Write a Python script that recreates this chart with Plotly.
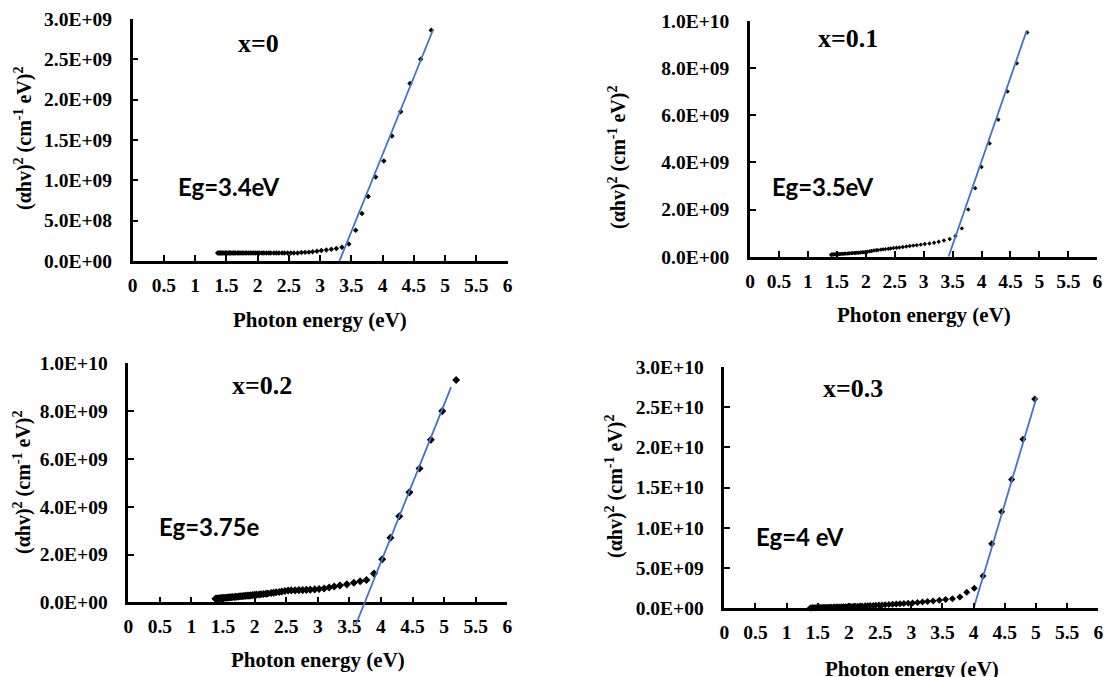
import plotly.graph_objects as go

W, H = 1116, 677
SCALE = 1e9  # values below are in units of 1e9 (cm^-1 eV)^2

# ---------------- data: x = 0 ----------------
e_x0 = [1.36, 1.38, 1.39, 1.41, 1.42, 1.44, 1.46, 1.48, 1.49, 1.51, 1.53, 1.55, 1.57, 1.59,
        1.61, 1.63, 1.65, 1.68, 1.70, 1.72, 1.75, 1.77, 1.80, 1.82, 1.85, 1.88, 1.91, 1.94,
        1.97, 2.00, 2.03, 2.07, 2.10, 2.14, 2.18, 2.21, 2.26, 2.30, 2.34, 2.39, 2.43, 2.48,
        2.53, 2.58, 2.64, 2.70, 2.76, 2.82, 2.88, 2.95, 3.02, 3.10, 3.18, 3.26, 3.35, 3.46,
        3.57, 3.67, 3.77, 3.89, 4.02, 4.15, 4.29, 4.44, 4.61, 4.78]
a_x0 = [0.10, 0.10, 0.10, 0.10, 0.10, 0.10, 0.10, 0.10, 0.10, 0.10, 0.10, 0.10, 0.10, 0.10,
        0.10, 0.10, 0.10, 0.10, 0.10, 0.10, 0.10, 0.10, 0.10, 0.10, 0.10, 0.10, 0.10, 0.10,
        0.10, 0.10, 0.10, 0.10, 0.10, 0.10, 0.10, 0.10, 0.10, 0.10, 0.10, 0.10, 0.10, 0.10,
        0.10, 0.10, 0.10, 0.105, 0.107, 0.11, 0.115, 0.12, 0.13, 0.137, 0.145, 0.155, 0.17, 0.21,
        0.38, 0.59, 0.80, 1.04, 1.24, 1.55, 1.85, 2.20, 2.50, 2.86]
fit_e_x0 = [3.31, 4.81]
fit_a_x0 = [0.0, 2.87]

# ---------------- data: x = 0.1 ----------------
e_x1 = [1.40, 1.41, 1.42, 1.44, 1.46, 1.48, 1.49, 1.51, 1.53, 1.55, 1.57, 1.59, 1.61, 1.63,
        1.65, 1.68, 1.70, 1.72, 1.75, 1.77, 1.80, 1.82, 1.85, 1.88, 1.91, 1.94, 1.97, 2.00,
        2.03, 2.07, 2.10, 2.14, 2.18, 2.21, 2.26, 2.30, 2.34, 2.39, 2.43, 2.48, 2.53, 2.58,
        2.64, 2.70, 2.76, 2.82, 2.88, 2.95, 3.02, 3.10, 3.18, 3.26, 3.35, 3.45, 3.55, 3.66,
        3.77, 3.89, 4.00, 4.14, 4.29, 4.45, 4.61, 4.79]
a_x1 = [0.08, 0.08, 0.09, 0.09, 0.10, 0.10, 0.10, 0.11, 0.11, 0.11, 0.12, 0.12, 0.12, 0.13,
        0.13, 0.13, 0.14, 0.14, 0.15, 0.15, 0.16, 0.16, 0.17, 0.17, 0.18, 0.19, 0.19, 0.20,
        0.21, 0.23, 0.24, 0.26, 0.27, 0.28, 0.30, 0.31, 0.32, 0.34, 0.35, 0.37, 0.38, 0.39,
        0.41, 0.43, 0.45, 0.47, 0.49, 0.51, 0.54, 0.56, 0.59, 0.63, 0.69, 0.75, 0.88, 1.20,
        2.00, 2.90, 3.80, 4.80, 5.80, 7.00, 8.20, 9.50]
fit_e_x1 = [3.43, 4.78]
fit_a_x1 = [0.0, 9.58]

# ---------------- data: x = 0.2 ----------------
e_x2 = [1.38, 1.39, 1.41, 1.42, 1.44, 1.46, 1.48, 1.49, 1.51, 1.53, 1.55, 1.57, 1.59, 1.61,
        1.63, 1.65, 1.68, 1.70, 1.72, 1.75, 1.77, 1.80, 1.82, 1.85, 1.88, 1.91, 1.94, 1.97,
        2.00, 2.03, 2.07, 2.10, 2.14, 2.18, 2.21, 2.26, 2.30, 2.34, 2.39, 2.43, 2.48, 2.53,
        2.58, 2.64, 2.70, 2.76, 2.82, 2.88, 2.95, 3.02, 3.10, 3.18, 3.26, 3.35, 3.46, 3.57,
        3.67, 3.77, 3.89, 4.02, 4.15, 4.29, 4.45, 4.61, 4.79, 4.97, 5.19]
a_x2 = [0.15, 0.15, 0.16, 0.16, 0.17, 0.17, 0.18, 0.18, 0.18, 0.19, 0.19, 0.20, 0.20, 0.21,
        0.21, 0.22, 0.22, 0.23, 0.23, 0.24, 0.25, 0.25, 0.26, 0.27, 0.28, 0.28, 0.29, 0.30,
        0.31, 0.32, 0.33, 0.34, 0.35, 0.36, 0.37, 0.39, 0.40, 0.42, 0.43, 0.45, 0.47, 0.49,
        0.50, 0.50, 0.51, 0.51, 0.52, 0.53, 0.54, 0.56, 0.58, 0.62, 0.66, 0.70, 0.75, 0.82,
        0.88, 0.93, 1.20, 1.80, 2.70, 3.60, 4.60, 5.60, 6.80, 8.00, 9.30]
fit_e_x2 = [3.60, 5.11]
fit_a_x2 = [-0.95, 9.0]

# ---------------- data: x = 0.3 ----------------
e_x3 = [1.38, 1.39, 1.41, 1.42, 1.44, 1.46, 1.48, 1.49, 1.51, 1.53, 1.55, 1.57, 1.59, 1.61,
        1.63, 1.65, 1.68, 1.70, 1.72, 1.75, 1.77, 1.80, 1.82, 1.85, 1.88, 1.91, 1.94, 1.97,
        2.00, 2.03, 2.07, 2.10, 2.14, 2.18, 2.21, 2.26, 2.30, 2.34, 2.39, 2.43, 2.48, 2.53,
        2.58, 2.64, 2.70, 2.76, 2.82, 2.88, 2.95, 3.02, 3.10, 3.18, 3.26, 3.35, 3.45, 3.55,
        3.66, 3.78, 3.89, 4.01, 4.15, 4.29, 4.45, 4.61, 4.79, 4.98]
a_x3 = [0.05, 0.05, 0.06, 0.06, 0.07, 0.07, 0.08, 0.08, 0.08, 0.09, 0.09, 0.10, 0.10, 0.10,
        0.11, 0.12, 0.12, 0.13, 0.14, 0.14, 0.15, 0.16, 0.16, 0.17, 0.18, 0.19, 0.19, 0.20,
        0.21, 0.22, 0.24, 0.25, 0.26, 0.28, 0.29, 0.31, 0.33, 0.34, 0.36, 0.38, 0.40, 0.42,
        0.44, 0.47, 0.51, 0.53, 0.56, 0.59, 0.62, 0.66, 0.72, 0.78, 0.84, 0.91, 0.99, 1.08,
        1.20, 1.41, 1.99, 2.48, 4.00, 8.00, 12.0, 16.0, 21.0, 26.0]
fit_e_x3 = [4.00, 5.01]
fit_a_x3 = [0.0, 26.2]

# ---------------- ticks / labels ----------------
x_ticks = [0, 0.5, 1, 1.5, 2, 2.5, 3, 3.5, 4, 4.5, 5, 5.5, 6]
x_text = ["0", "0.5", "1", "1.5", "2", "2.5", "3", "3.5", "4", "4.5", "5", "5.5", "6"]
y_ticks_a = [0, 5e8, 1e9, 1.5e9, 2e9, 2.5e9, 3e9]
y_text_a = ["0.0E+00", "5.0E+08", "1.0E+09", "1.5E+09", "2.0E+09", "2.5E+09", "3.0E+09"]
y_ticks_b = [0, 2e9, 4e9, 6e9, 8e9, 1e10]
y_text_b = ["0.0E+00", "2.0E+09", "4.0E+09", "6.0E+09", "8.0E+09", "1.0E+10"]
y_ticks_c = [0, 5e9, 1e10, 1.5e10, 2e10, 2.5e10, 3e10]
y_text_c = ["0.0E+00", "5.0E+09", "1.0E+10", "1.5E+10", "2.0E+10", "2.5E+10", "3.0E+10"]

panel_labels = ["x=0", "x=0.1", "x=0.2", "x=0.3"]
gap_labels = ["Eg=3.4eV", "Eg=3.5eV", "Eg=3.75e", "Eg=4 eV"]
x_title = "Photon energy (eV)"
y_title = "(αhv)<sup>2</sup> (cm<sup>-1</sup> eV)<sup>2</sup>"

# ---------------- layout geometry (pixels) ----------------
def px_x(p):
    return p / W

def px_y(p):
    return 1 - p / H

def bold(labels):
    return ["<b>" + s + "</b>" for s in labels]

# (left, right, top, bottom) of each plot area in pixels
boxes = [(132.7, 507.5, 19.0, 261.0),
         (750.0, 1097.3, 20.7, 256.7),
         (128.3, 507.3, 363.3, 602.3),
         (724.3, 1098.3, 366.7, 608.3)]
y_ranges = [[0, 3e9], [0, 1e10], [0, 1e10], [0, 3e10]]
y_tickset = [(y_ticks_a, y_text_a), (y_ticks_b, y_text_b), (y_ticks_b, y_text_b), (y_ticks_c, y_text_c)]

TICKFONT = dict(family="Liberation Serif", size=19.5, color="black")
BLUE = "#4472C4"

fig = go.Figure()
layout = dict(width=W, height=H, margin=dict(l=0, r=0, t=0, b=0, autoexpand=False),
              paper_bgcolor="white", plot_bgcolor="rgba(0,0,0,0)", showlegend=False)

for i, (l, r, t, b) in enumerate(boxes):
    n = "" if i == 0 else str(i + 1)
    layout["xaxis" + n] = dict(domain=[px_x(l), px_x(r)], range=[0, 6], anchor="y" + n,
                               showline=True, linecolor="black", linewidth=2.5,
                               ticks="inside", ticklen=6, tickwidth=2, tickcolor="black",
                               tickvals=x_ticks, ticktext=bold(x_text), tickfont=TICKFONT,
                               ticklabelstandoff=5, automargin=False,
                               showgrid=False, zeroline=False, fixedrange=True)
    tv, tt = y_tickset[i]
    layout["yaxis" + n] = dict(domain=[px_y(b), px_y(t)], range=y_ranges[i], anchor="x" + n,
                               showline=True, linecolor="black", linewidth=2.5,
                               ticks="inside", ticklen=6, tickwidth=2, tickcolor="black",
                               tickvals=tv, ticktext=bold(tt), tickfont=TICKFONT,
                               ticklabelstandoff=14, automargin=False,
                               showgrid=False, zeroline=False, fixedrange=True)

# hidden companion axes for panel 3 so that its fit line can run below the x axis
l3, r3, t3, b3 = boxes[2]
ext_px = 30.0
ext_val = ext_px / (b3 - t3) * 1e10
layout["xaxis5"] = dict(domain=[px_x(l3), px_x(r3)], range=[0, 6], anchor="y5", visible=False,
                        fixedrange=True, automargin=False)
layout["yaxis5"] = dict(domain=[px_y(b3 + ext_px), px_y(t3)], range=[-ext_val, 1e10], anchor="x5",
                        visible=False, fixedrange=True, automargin=False)

series = [(e_x0, a_x0, fit_e_x0, fit_a_x0, 4.2, "x", "y"),
          (e_x1, a_x1, fit_e_x1, fit_a_x1, 3.4, "x2", "y2"),
          (e_x2, a_x2, fit_e_x2, fit_a_x2, 6.2, "x5", "y5"),
          (e_x3, a_x3, fit_e_x3, fit_a_x3, 5.4, "x4", "y4")]
marker_axes = [("x", "y"), ("x2", "y2"), ("x3", "y3"), ("x4", "y4")]

for i, (ev, av, fe, fa, ms, fx, fy) in enumerate(series):
    mx, my = marker_axes[i]
    fig.add_trace(go.Scatter(x=ev, y=[v * SCALE for v in av], mode="markers",
                             marker=dict(symbol="diamond", size=ms, color="black"),
                             cliponaxis=False, xaxis=mx, yaxis=my))
    fig.add_trace(go.Scatter(x=fe, y=[v * SCALE for v in fa], mode="lines",
                             line=dict(color=BLUE, width=1.8), xaxis=fx, yaxis=fy))

ann = []
label_pos = [(258, 43), (848, 38), (262, 385), (853, 388)]
gap_pos = [(228.5, 186), (823, 186), (209.5, 526), (799.5, 536)]
xt_pos = [(320, 320), (924, 315), (318, 660), (912, 669)]
yt_pos = [(23, 139), (617, 158), (22, 483), (614, 487)]
for i in range(4):
    ann.append(dict(x=px_x(label_pos[i][0]), y=px_y(label_pos[i][1]), xref="paper", yref="paper",
                    text="<b>" + panel_labels[i] + "</b>", showarrow=False, xanchor="center", yanchor="middle",
                    font=dict(family="Liberation Serif", size=26, color="black")))
    ann.append(dict(x=px_x(gap_pos[i][0]), y=px_y(gap_pos[i][1]), xref="paper", yref="paper",
                    text="<b>" + gap_labels[i] + "</b>", showarrow=False, xanchor="center", yanchor="middle",
                    font=dict(family="Lato", size=24, color="black")))
    ann.append(dict(x=px_x(xt_pos[i][0]), y=px_y(xt_pos[i][1]), xref="paper", yref="paper",
                    text="<b>" + x_title + "</b>", showarrow=False, xanchor="center", yanchor="middle",
                    font=dict(family="Liberation Serif", size=21, color="black")))
    ann.append(dict(x=px_x(yt_pos[i][0]), y=px_y(yt_pos[i][1]), xref="paper", yref="paper",
                    text="<b>" + y_title + "</b>", showarrow=False, xanchor="center", yanchor="middle",
                    textangle=-90,
                    font=dict(family="Liberation Serif", size=20, color="black")))
layout["annotations"] = ann

fig.update_layout(**layout)
fig.write_html("out.html")
